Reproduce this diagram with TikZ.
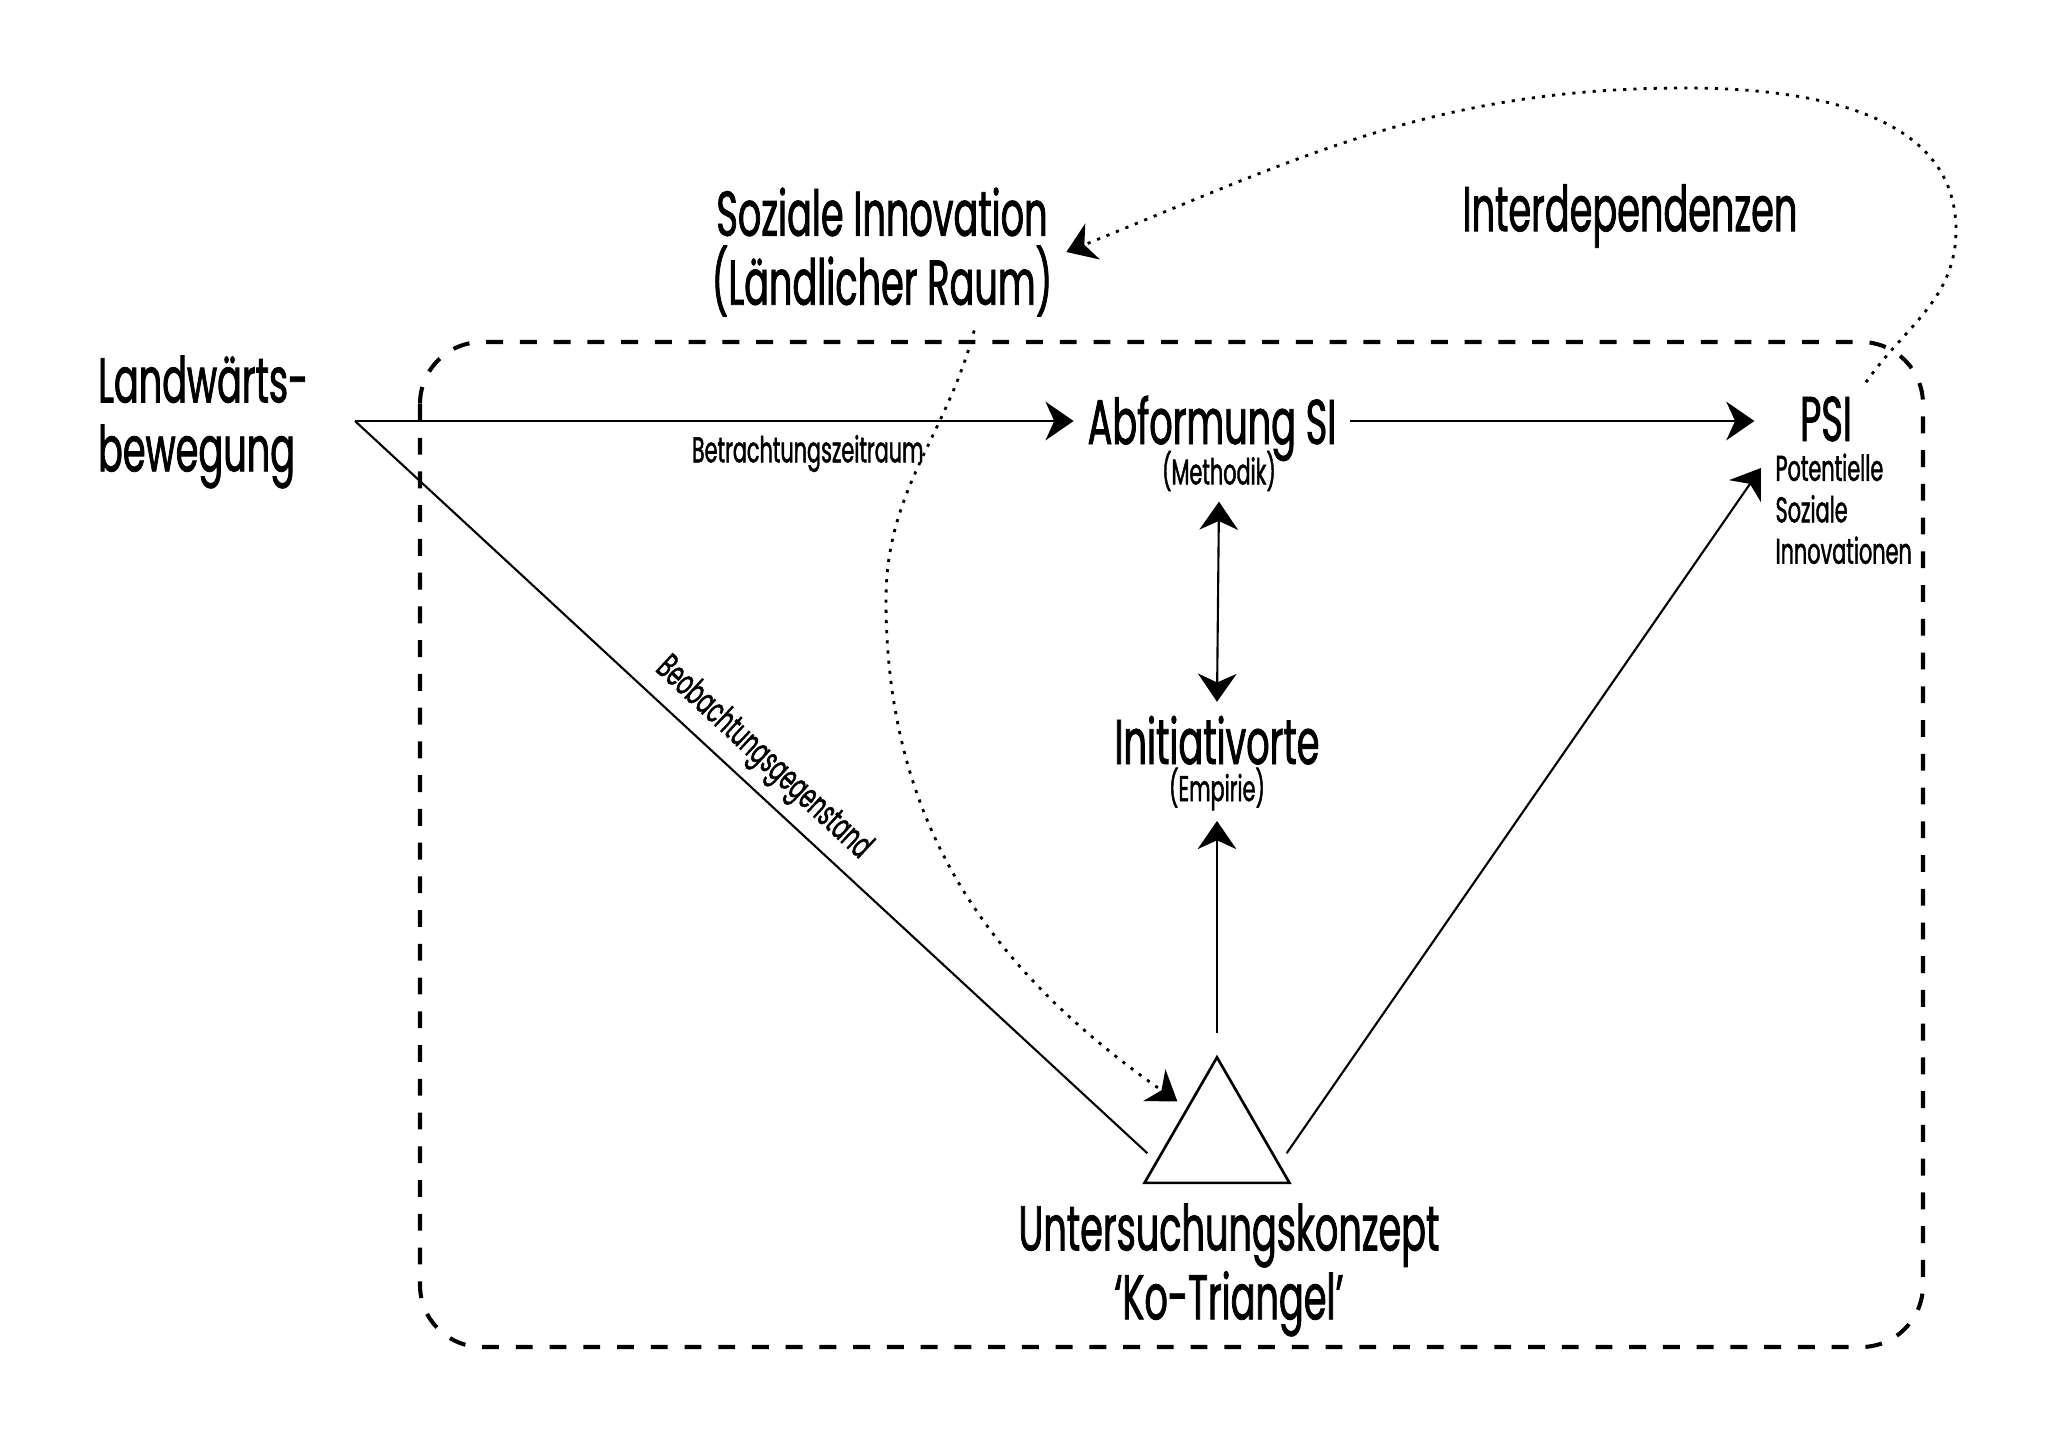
\documentclass[tikz,border=0pt]{standalone}
\usepackage{fontspec}
\setmainfont{Poppins}[FakeStretch=0.58, FakeBold=1.2]
\usetikzlibrary{
  arrows.meta,
  calc,
  positioning,
  shapes.geometric
}
\tikzset{
  % For the big labels.
  heading/.style={
    font=\fontsize{18pt}{19.6pt}\selectfont,
    inner sep=0pt,
    outer sep=4pt},
%
  % For small explanations.
  remark/.style={
    font=\fontsize{10.2pt}{11.8pt}\selectfont,
    inner sep=0pt,
    outer sep=3pt},
%
  % For main connectors.
  link/.style={
    line width=0.6pt},
%
  % For connectors with one arrow.
  direction/.style={
    link,
    -{Stealth[length=8pt, width=11pt, inset=2.5pt]}},
  % For connectors with two arrows.
  span/.style={
    link,
    {Stealth[length=8pt, width=11pt, inset=2.5pt]}-{Stealth[length=8pt, width=11pt, inset=2.5pt]}},
%
  % For thin, dotted feedback curves.
  dotted direction/.style={
    line width=0.8pt,
    dash pattern=on 0.9pt off 2pt,
    -{Stealth[length=8pt, width=11pt, inset=2.5pt]}},
%
  % For the dashed frame around the concept.
  frame/.style={
    line width=1.15pt,
    dash pattern=on 4.8pt off 4.8pt,
    rounded corners=0.62cm},
%
  % For the 'Ko-Triangel'.
  triangle/.style={
    regular polygon,
    regular polygon sides=3,
    draw,
    line width=0.75pt,
    minimum size=1.674cm,
    inner sep=0pt,
    outer sep=3.5pt}
}

\begin{document}
\begin{tikzpicture}
  \useasboundingbox (0,0) rectangle (20.48,-14.48);

  \draw[frame] (4.20,-3.42) rectangle (19.23,-13.47);

  \node [heading, align=left, anchor=west] (land) at (0.84,-4.22)
        {Landwärts-\\bewegung};
  \coordinate (start) at (3.55,-4.21);

  \node [heading, align=center] (soz) at (8.82,-2.52)
        {Soziale Innovation\\(Ländlicher Raum)};
  \node [heading] (inter) at (16.30,-2.16) {Interdependenzen};

  \node [heading, anchor=base] (abf) at (12.12,-4.44) {Abformung SI};
  \node [remark] (meth) at (12.19,-4.71) {(Methodik)};

  \node [heading, anchor=base] (psi) at (18.26,-4.41) {PSI};
  \node [remark, align=left, anchor=north west] (psilong) at (17.65,-4.43)
        {Potentielle\\Soziale\\Innovationen};

  \node [heading, anchor=base] (ini) at (12.17,-7.64) {Initiativorte};
  \node [remark] (emp) at (12.17,-7.89) {(Empirie)};

  \node [triangle] (tri) at (12.17,-11.41) {};
  \node [heading, align=center] (konz) at (12.29,-12.70)
        {Untersuchungskonzept\\‘Ko-Triangel’};

  \draw[direction] (start) -- (start -| abf.west)
                   node [remark, below, pos=0.63, yshift=-1pt] (zeit) {Betrachtungszeitraum};
  \draw[link] (start) -- (tri.190)
              node [remark, above, sloped, pos=0.49] (gegen) {Beobachtungsgegenstand};

  \draw[direction, shorten >=9pt] (abf.east |- start) -- (psi.west |- start);
  \draw[span] (meth.south) -- (ini.north);
  \draw[direction] (tri.north) -- (emp.south);
  \draw[direction] (tri.-10) -- ($(psilong.north west)+(-0.04,-0.25)$);

  % Feedback from PSI back to the starting point.
  \coordinate (loop right) at (19.56,-2.30);
  \coordinate (loop top) at (16.85,-0.88);
  \draw[dotted direction] (psi.north east)
                            to[out=55, in=-90] (loop right)
                            to[out=90, in=0] (loop top)
                            to[out=180, in=22] (soz.east);

  % Influence of social innovation on the concept.
  \coordinate (swing) at (8.86,-6.00);
  \draw[dotted direction] ($(soz.south)!0.5!(soz.south east)$)
                            to[out=-105, in=90] (swing)
                            to[out=-90, in=145] (tri.135);
\end{tikzpicture}
\end{document}
